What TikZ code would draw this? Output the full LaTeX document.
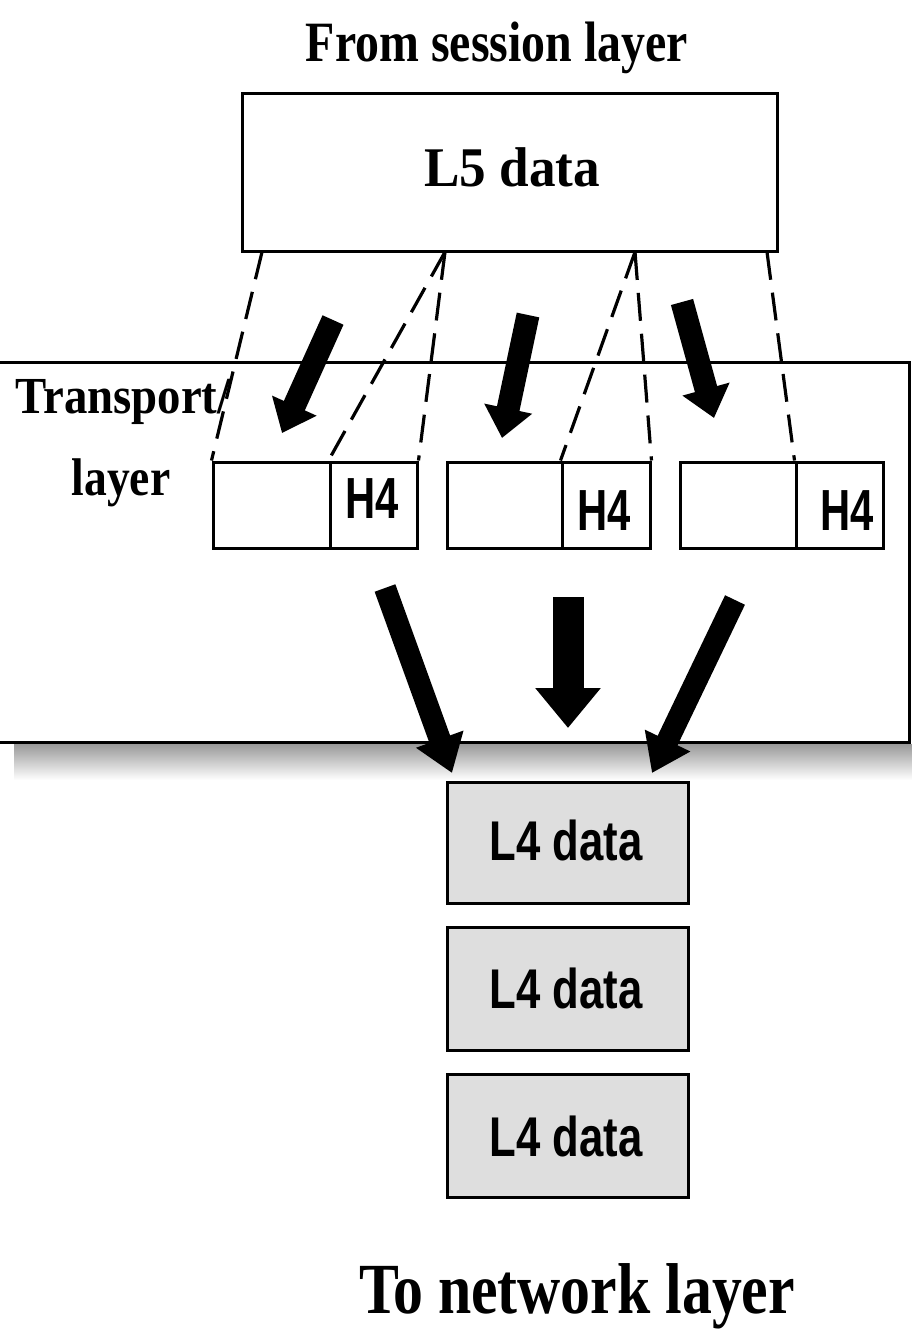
\documentclass[tikz,border=0pt]{standalone}
\usepackage{fontspec}
\usepackage{graphicx}
\setmainfont{Liberation Serif}
\newfontfamily\labelsans{Liberation Sans}
\usetikzlibrary{arrows.meta}

% horizontally condensed text
\newcommand\narrowtext[2]{\scalebox{#1}[1]{#2}}

\tikzset{
  boxline/.style={draw=black, line width=3pt},
  layerbox/.style={boxline, fill=white, inner sep=0pt},
  segbox/.style={boxline, fill=white, inner sep=0pt, minimum height=86pt},
  pdubox/.style={boxline, fill=black!13, inner sep=0pt, minimum width=241pt},
  dashline/.style={line width=3.2pt, dash pattern=on 28pt off 13pt},
  fatarrow/.style={line width=23pt, -{Triangle[width=47pt,length=30pt]}},
  fatarrowlow/.style={line width=22pt, -{Triangle[width=48pt,length=36pt]}},
  widearrow/.style={line width=31pt, -{Triangle[width=63pt,length=40pt]}},
  serifbold/.style={font=\bfseries, inner sep=0pt},
  sanslabel/.style={font=\labelsans\bfseries, inner sep=0pt},
}

\begin{document}
\begin{tikzpicture}[x=1pt, y=-1pt]
\useasboundingbox (0,0) rectangle (912,1332);

% ---- heading and session-layer data ----
\node[serifbold, anchor=base] (fromtxt) at (497,62)
  {\fontsize{57}{57}\selectfont\narrowtext{0.84}{From session layer}};
\node[layerbox, minimum width=535pt, minimum height=158pt] (l5) at (509.5,173) {};
\node[serifbold, anchor=base] (l5txt) at (512,187)
  {\fontsize{56}{56}\selectfont\narrowtext{0.95}{L5 data}};

% ---- transport layer panel with soft shadow ----
\shade[top color=black!40, bottom color=white] (14,744) rectangle (912,780);
\node[layerbox, minimum width=914pt, minimum height=380pt] (transport) at (452,552) {};
\node[serifbold, anchor=base] (tltxt1) at (123,413)
  {\fontsize{52}{52}\selectfont\narrowtext{0.90}{Transport/}};
\node[serifbold, anchor=base] (tltxt2) at (121,495)
  {\fontsize{53}{53}\selectfont\narrowtext{0.86}{layer}};

% ---- segments: data part + H4 header ----
\node[segbox, minimum width=117pt] (s1d) at (271.5,505) {};
\node[segbox, minimum width=87pt]  (s1h) at (373.5,505) {};
\node[segbox, minimum width=115pt] (s2d) at (504.5,505) {};
\node[segbox, minimum width=88pt]  (s2h) at (606,505) {};
\node[segbox, minimum width=116pt] (s3d) at (738,505) {};
\node[segbox, minimum width=87pt]  (s3h) at (839.5,505) {};

\node[sanslabel, anchor=base] (h1) at (372,518)
  {\fontsize{58}{58}\selectfont\narrowtext{0.72}{H4}};
\node[sanslabel, anchor=base] (h2) at (604,530)
  {\fontsize{58}{58}\selectfont\narrowtext{0.72}{H4}};
\node[sanslabel, anchor=base] (h3) at (847,530)
  {\fontsize{58}{58}\selectfont\narrowtext{0.72}{H4}};

% ---- split points on the L5 block ----
\coordinate (cutA) at (262,252);
\coordinate (cutB) at (445,252);
\coordinate (cutC) at (635,252);
\coordinate (cutD) at (767,252);

\draw[dashline] (cutA) -- (s1d.north west);
\draw[dashline] (cutB) -- (s1h.north west);
\draw[dashline] (cutB) -- (s1h.north east);
\draw[dashline] (cutC) -- (s2h.north west);
\draw[dashline] (cutC) -- (s2h.north east);
\draw[dashline] (cutD) -- (s3h.north west);

% ---- arrows into the segments ----
\coordinate (a1s) at (333,320);  \coordinate (a1e) at (282,433);
\coordinate (a2s) at (528,315);  \coordinate (a2e) at (502,438);
\coordinate (a3s) at (682,302);  \coordinate (a3e) at (714,418);
\draw[fatarrow] (a1s) -- (a1e);
\draw[fatarrow] (a2s) -- (a2e);
\draw[fatarrow] (a3s) -- (a3e);

% ---- arrows down to the network layer ----
\coordinate (b1s) at (385,588);  \coordinate (b1e) at (452,773);
\coordinate (b2s) at (568,597);  \coordinate (b2e) at (568,728);
\coordinate (b3s) at (735,600);  \coordinate (b3e) at (652,773);
\draw[fatarrowlow] (b1s) -- (b1e);
\draw[widearrow]   (b2s) -- (b2e);
\draw[fatarrowlow] (b3s) -- (b3e);

% ---- L4 PDUs ----
\node[pdubox, minimum height=121pt] (pdu1) at (567.5,842.5) {};
\node[pdubox, minimum height=123pt] (pdu2) at (567.5,988.5) {};
\node[pdubox, minimum height=123pt] (pdu3) at (567.5,1135.5) {};
\node[sanslabel, anchor=base] (p1txt) at (566,860)
  {\fontsize{56}{56}\selectfont\narrowtext{0.78}{L4 data}};
\node[sanslabel, anchor=base] (p2txt) at (566,1008)
  {\fontsize{56}{56}\selectfont\narrowtext{0.78}{L4 data}};
\node[sanslabel, anchor=base] (p3txt) at (566,1156)
  {\fontsize{56}{56}\selectfont\narrowtext{0.78}{L4 data}};

% ---- footer ----
\node[serifbold, anchor=base] (totxt) at (577,1313)
  {\fontsize{72}{72}\selectfont\narrowtext{0.83}{To network layer}};
\end{tikzpicture}
\end{document}
